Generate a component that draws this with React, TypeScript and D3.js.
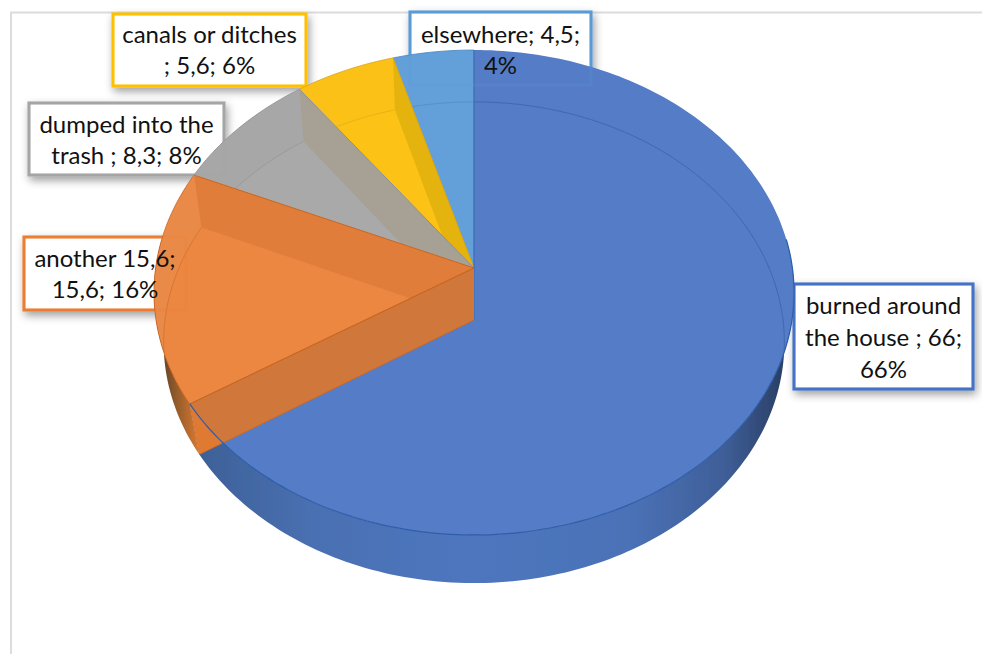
import * as d3 from 'd3';
import React, { useEffect, useRef } from "react";

const categories = ["burned around the house", "another 15,6", "dumped into the trash", "canals or ditches", "elsewhere"];
const values = [66, 15.6, 8.3, 5.6, 4.5];

const labelLines = [
    ["burned around", "the house ; 66;", "66%"],
    ["another 15,6;", "15,6; 16%"],
    ["dumped into the", "trash ; 8,3; 8%"],
    ["canals or ditches", "; 5,6; 6%"],
    ["elsewhere; 4,5;", "4%"],
];

const borderColors = ["#4472c4", "#ed7d31", "#a5a5a5", "#ffc000", "#5b9bd5"];
const topColors = ["#547bc6", "#ea8a48", "#a7a7a7", "#fbc118", "#639fd8"];
const floorColors = ["#547bc6", "#ec8743", "#a9a9a9", "#fcc216", "#639fd8"];
const wallColors = ["#4b73bb", "#e17d3a", "#a6a194", "#e5b310", "#5c98d2"];
const edgeColors = ["#2f5ea8", "#c9661f", "#8f8f8f", "#d9a514", "#4a86c0"];

const labelBoxes = [
    { x: 794, y: 284, w: 179, h: 105 },
    { x: 24, y: 237, w: 162, h: 73 },
    { x: 29, y: 103, w: 195, h: 72 },
    { x: 113, y: 14, w: 193, h: 72 },
    { x: 410, y: 12, w: 181, h: 73 },
];
const labelBaselines = [[314, 346, 378], [267, 298], [133, 164], [43, 74], [43, 74]];

const cx = 474;
const topPlane = { y0: 268, a: 318.4, b: 240, k: 0.101 };
const bottomPlane = { y0: 320, a: 309, b: 238.5, k: 0.0935 };
type Plane = typeof topPlane;
type Pt = [number, number];

// perspective view of the pie disc, angle runs clockwise from 12 o'clock
const project = (plane: Plane, angle: number, r = 1): Pt => {
    const u = Math.sin(angle) * r;
    const v = -Math.cos(angle) * r;
    const w = 1 - plane.k * v;
    return [cx + plane.a * u / w, plane.y0 + plane.b * v / w];
};

const rim = (plane: Plane, start: number, end: number): Pt[] => {
    const n = Math.max(2, Math.ceil(Math.abs(end - start) / 0.02));
    return d3.range(n + 1).map(i => project(plane, start + (end - start) * i / n));
};

const line = d3.line<Pt>();
const closed = (pts: Pt[]) => line(pts) + "Z";
const sector = (plane: Plane, start: number, end: number) =>
    closed([project(plane, 0, 0), ...rim(plane, start, end)]);
const band = (angle: number) =>
    closed([project(topPlane, 0, 0), project(topPlane, angle), project(bottomPlane, angle), project(bottomPlane, 0, 0)]);

const App: React.FC = () => {
    const ref = useRef<SVGSVGElement>(null);

    useEffect(() => {
        if (!ref.current) return;
        const width = 982;
        const height = 654;
        const svg = d3.select(ref.current)
            .attr('width', width)
            .attr('height', height);
        svg.selectAll('*').remove();

        const arcs = d3.pie<number>().value(d => d).sort(null)(values);
        const defs = svg.append('defs');

        const shadow = defs.append('filter').attr('id', 'shadow')
            .attr('x', '-10%').attr('y', '-15%').attr('width', '125%').attr('height', '140%');
        shadow.append('feDropShadow')
            .attr('dx', 2).attr('dy', 4).attr('stdDeviation', 4)
            .attr('flood-color', '#000').attr('flood-opacity', 0.38);
        defs.append('filter').attr('id', 'soft')
            .append('feGaussianBlur').attr('stdDeviation', 0.6);

        const gradient = (id: string, x1: number, x2: number, stops: [number, string][]) => {
            const g = defs.append('linearGradient').attr('id', id)
                .attr('gradientUnits', 'userSpaceOnUse')
                .attr('x1', x1).attr('x2', x2).attr('y1', 0).attr('y2', 0);
            stops.forEach(([o, c]) => g.append('stop').attr('offset', o).attr('stop-color', c));
        };
        gradient('blueSide', 195, 795, [
            [0, '#3d6097'], [0.2, '#4a70b2'], [0.45, '#4e76bf'], [0.72, '#4b72b7'], [0.88, '#3f5f99'], [1, '#26395c'],
        ]);
        gradient('orangeSide', 155, 200, [[0, '#4f3420'], [0.45, '#8f5a2c'], [1, '#dd7a2e']]);

        // frame of the chart area
        svg.append('path')
            .attr('d', line([[11, 654], [11, 12.5], [982, 12.5]]))
            .attr('fill', 'none').attr('stroke', '#dcdcdc').attr('stroke-width', 2);

        // label boxes sit behind the pie
        labelBoxes.forEach((b, i) => {
            svg.append('rect')
                .attr('x', b.x).attr('y', b.y).attr('width', b.w).attr('height', b.h)
                .attr('fill', '#fff')
                .attr('stroke', borderColors[i]).attr('stroke-width', 3)
                .attr('filter', 'url(#shadow)');
        });

        const pie = svg.append('g').attr('filter', 'url(#soft)');

        // outer side of the disc
        const blue = arcs[0];
        const orange = arcs[1];
        pie.append('path')
            .attr('d', closed([...rim(topPlane, 1.45, blue.endAngle), ...rim(bottomPlane, blue.endAngle, 1.45)]))
            .attr('fill', 'url(#blueSide)');
        pie.append('path')
            .attr('d', closed([...rim(topPlane, orange.startAngle, orange.startAngle + 0.7), ...rim(bottomPlane, orange.startAngle + 0.7, orange.startAngle)]))
            .attr('fill', 'url(#orangeSide)');

        // the four open slices, back to front, each with floor and back wall inside its own outline
        [4, 3, 2, 1].forEach(i => {
            const a = arcs[i];
            const clipId = `slice-${i}`;
            defs.append('clipPath').attr('id', clipId)
                .append('path').attr('d', sector(topPlane, a.startAngle, a.endAngle));
            pie.append('path')
                .attr('d', sector(topPlane, a.startAngle, a.endAngle))
                .attr('fill', topColors[i]);
            const inner = pie.append('g').attr('clip-path', `url(#${clipId})`);
            inner.append('path')
                .attr('d', sector(bottomPlane, a.startAngle, a.endAngle))
                .attr('fill', floorColors[i]);
            inner.append('path')
                .attr('d', line(rim(bottomPlane, a.startAngle, a.endAngle)))
                .attr('fill', 'none').attr('stroke', edgeColors[i]).attr('stroke-width', 1).attr('opacity', 0.5);
            if (i < 4) {
                inner.append('path').attr('d', band(a.endAngle)).attr('fill', wallColors[i]);
            }
            pie.append('path')
                .attr('d', line([project(topPlane, 0, 0), project(topPlane, a.endAngle)]))
                .attr('fill', 'none').attr('stroke', edgeColors[i]).attr('stroke-width', 1);
            pie.append('path')
                .attr('d', line(rim(topPlane, a.startAngle, a.endAngle)))
                .attr('fill', 'none').attr('stroke', edgeColors[i]).attr('stroke-width', 0.8);
        });

        // big slice on top
        const blueId = 'slice-0';
        defs.append('clipPath').attr('id', blueId)
            .append('path').attr('d', sector(topPlane, blue.startAngle, blue.endAngle));
        pie.append('path')
            .attr('d', sector(topPlane, blue.startAngle, blue.endAngle))
            .attr('fill', topColors[0]);
        pie.append('path')
            .attr('d', line(rim(bottomPlane, 0, 1.75)))
            .attr('clip-path', `url(#${blueId})`)
            .attr('fill', 'none').attr('stroke', '#4069b4').attr('stroke-width', 1);
        pie.append('path')
            .attr('d', line([project(topPlane, 0), project(bottomPlane, 0, 0)]))
            .attr('fill', 'none').attr('stroke', '#3f68b2').attr('stroke-width', 1);

        // wall of the orange slice shows over the blue one
        pie.append('path').attr('d', band(orange.startAngle)).attr('fill', '#e07a31');
        pie.append('path').attr('d', band(orange.startAngle))
            .attr('clip-path', `url(#${blueId})`)
            .attr('fill', '#d0773b');
        pie.append('path')
            .attr('d', line([project(topPlane, 0, 0), project(topPlane, orange.startAngle)]))
            .attr('fill', 'none').attr('stroke', edgeColors[1]).attr('stroke-width', 1.2);
        pie.append('path')
            .attr('d', line([project(bottomPlane, 0, 0), project(bottomPlane, orange.startAngle)]))
            .attr('fill', 'none').attr('stroke', edgeColors[1]).attr('stroke-width', 0.8);
        pie.append('path')
            .attr('d', line(rim(topPlane, 1.45, blue.endAngle)))
            .attr('fill', 'none').attr('stroke', edgeColors[0]).attr('stroke-width', 1.2);

        // box borders shine faintly through the pie
        const ghost = svg.append('g').attr('opacity', 0.22);
        labelBoxes.forEach((b, i) => {
            ghost.append('rect')
                .attr('x', b.x).attr('y', b.y).attr('width', b.w).attr('height', b.h)
                .attr('fill', 'none').attr('stroke', borderColors[i]).attr('stroke-width', 3);
        });

        // text on top of everything
        categories.forEach((_, i) => {
            const b = labelBoxes[i];
            labelLines[i].forEach((t, j) => {
                svg.append('text')
                    .attr('x', b.x + b.w / 2)
                    .attr('y', labelBaselines[i][j])
                    .attr('text-anchor', 'middle')
                    .attr('font-family', 'Lato, "Open Sans", sans-serif')
                    .attr('font-size', 24)
                    .attr('fill', '#111')
                    .text(t);
            });
        });
    }, []);

    return (<svg ref={ref} style={{ position: 'absolute', left: 0, top: 0, display: 'block' }}></svg>);
};

export default App;
